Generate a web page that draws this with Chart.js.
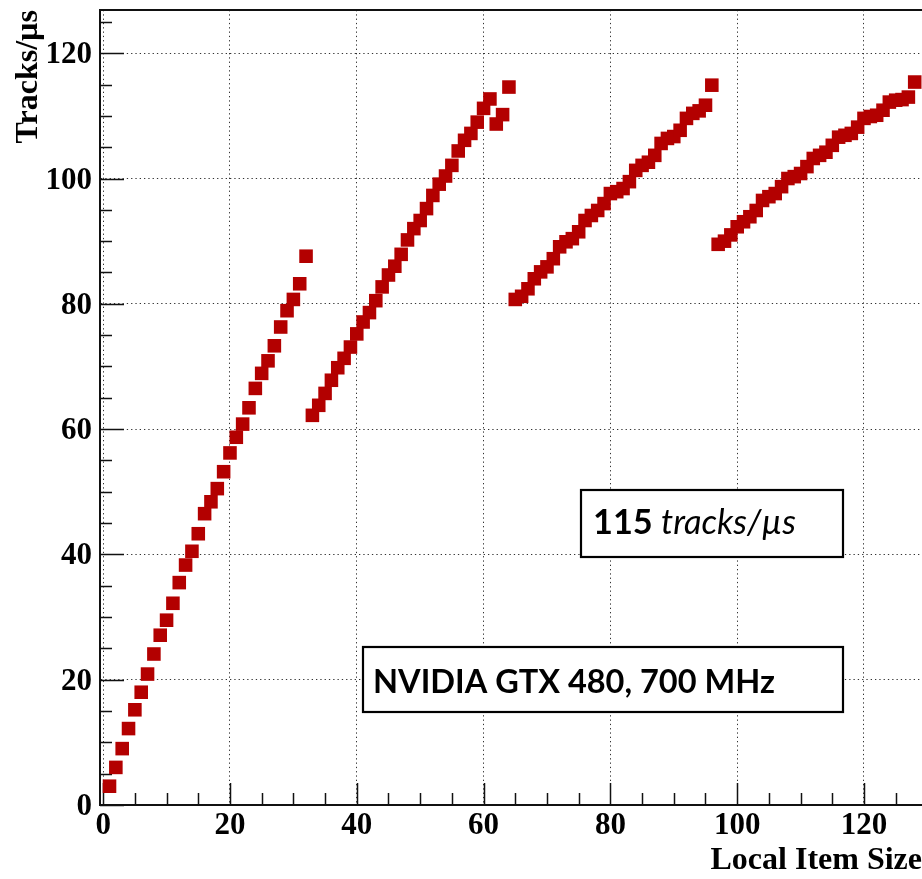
<!DOCTYPE html>
<html><head><meta charset="utf-8">
<script src="https://cdn.jsdelivr.net/npm/chart.js@4"></script>
<style>html,body{margin:0;padding:0;background:#fff}#wrap{width:922px;height:879px}</style>
</head><body><div id="wrap"><canvas id="c" width="922" height="879"></canvas></div>
<script>
// ---- data ----
const localItemSize = [
  1,2,3,4,5,6,7,8,9,10,11,12,13,14,15,16,17,18,19,20,21,22,23,24,25,26,27,28,29,30,31,32,
  33,34,35,36,37,38,39,40,41,42,43,44,45,46,47,48,49,50,51,52,53,54,55,56,57,58,59,60,61,62,63,64,
  65,66,67,68,69,70,71,72,73,74,75,76,77,78,79,80,81,82,83,84,85,86,87,88,89,90,91,92,93,94,95,96,
  97,98,99,100,101,102,103,104,105,106,107,108,109,110,111,112,113,114,115,116,117,118,119,120,121,122,123,124,125,126,127,128
];
const tracksPerUs = [
  3.0,6.0,9.0,12.2,15.2,18.0,20.9,24.1,27.1,29.5,32.2,35.5,38.3,40.5,43.3,46.5,48.4,50.5,53.2,56.2,58.7,60.8,63.4,66.5,68.9,70.9,73.3,76.3,78.9,80.7,83.2,87.6,
  62.2,63.8,65.7,67.8,69.8,71.3,73.1,75.2,77.1,78.6,80.5,82.7,84.6,86.0,87.9,90.2,92.0,93.3,95.2,97.3,99.1,100.4,102.1,104.4,106.1,107.2,109.0,111.2,112.7,108.7,110.2,114.6,
  80.7,81.2,82.4,84.0,85.1,85.9,87.2,89.1,89.9,90.4,91.5,93.3,94.1,94.9,96.0,97.6,97.9,98.4,99.5,101.3,102.1,102.6,103.7,105.6,106.4,106.7,107.7,109.6,110.4,110.8,111.7,114.9,
  89.5,90.0,91.0,92.3,93.1,93.9,94.9,96.5,97.1,97.6,98.7,100.0,100.3,100.8,101.9,103.2,103.7,104.2,105.3,106.6,106.9,107.2,108.2,109.6,109.9,110.1,110.9,112.2,112.5,112.6,113.0,115.4
];
const xTicks = [0,20,40,60,80,100,120];
const yTicks = [0,20,40,60,80,100,120];
const xTitle = 'Local Item Size';
const yTitle = 'Tracks/µs';
const peakValue = '115';
const peakUnit = 'tracks/µs';
const deviceLabel = 'NVIDIA GTX 480, 700 MHz';

// ---- styling ----
const X_MIN = -0.5, X_MAX = 129.15, Y_MIN = 0, Y_MAX = 126.9;
const MINOR_STEP = 5;
const serif = "'Liberation Serif', 'DejaVu Serif', serif";
const sans = "Lato, 'Open Sans', sans-serif";

function zeroPad(s) { s.paddingTop = 0; s.paddingBottom = 0; s.paddingLeft = 0; s.paddingRight = 0; }

const decorPlugin = {
  id: 'decor',
  beforeDatasetsDraw(chart) {
    const {ctx, chartArea: a, scales: {x, y}} = chart;
    ctx.save();
    ctx.strokeStyle = '#111';
    ctx.lineWidth = 1.5;
    ctx.beginPath();
    for (let v = 0; v <= Y_MAX; v += MINOR_STEP) {
      const py = Math.round(y.getPixelForValue(v)) + 0.5;
      const len = (v % 20 === 0) ? 24 : 12;
      ctx.moveTo(a.left, py); ctx.lineTo(a.left + len, py);
    }
    for (let v = 0; v <= X_MAX; v += MINOR_STEP) {
      const px = Math.round(x.getPixelForValue(v)) + 0.5;
      const len = (v % 20 === 0) ? 22 : 12;
      ctx.moveTo(px, a.bottom); ctx.lineTo(px, a.bottom - len);
    }
    ctx.stroke();
    ctx.restore();
  },
  afterDatasetsDraw(chart) {
    const {ctx, chartArea: a} = chart;
    ctx.save();
    // top frame line
    ctx.strokeStyle = '#111'; ctx.lineWidth = 2;
    ctx.beginPath(); ctx.moveTo(a.left - 1, a.top); ctx.lineTo(a.right, a.top); ctx.stroke();

    // box 1
    ctx.fillStyle = '#fff'; ctx.strokeStyle = '#000'; ctx.lineWidth = 2.2;
    ctx.fillRect(581, 490, 262, 67); ctx.strokeRect(581, 490, 262, 67);
    ctx.fillStyle = '#000'; ctx.textBaseline = 'alphabetic'; ctx.textAlign = 'left';
    ctx.font = `bold 100px ${sans}`;
    const wb = ctx.measureText(peakValue + ' ').width;
    ctx.font = `italic 100px ${sans}`;
    const wi = ctx.measureText(peakUnit).width;
    const s1 = 100 * 203 / (wb + wi);
    ctx.font = `bold ${s1}px ${sans}`;
    ctx.fillText(peakValue, 593, 534);
    const wb1 = ctx.measureText(peakValue + ' ').width;
    ctx.font = `italic ${s1}px ${sans}`;
    ctx.fillText(peakUnit, 593 + wb1, 534);

    // box 2
    ctx.fillStyle = '#fff';
    ctx.fillRect(363, 647, 480, 65); ctx.strokeRect(363, 647, 480, 65);
    ctx.fillStyle = '#000';
    ctx.font = `bold 100px ${sans}`;
    const w2 = ctx.measureText(deviceLabel).width;
    ctx.font = `bold ${100 * 402 / w2}px ${sans}`;
    ctx.fillText(deviceLabel, 373, 693);
    ctx.restore();
  }
};

new Chart(document.getElementById('c'), {
  type: 'scatter',
  data: {
    datasets: [{
      data: localItemSize.map((v, i) => ({x: v, y: tracksPerUs[i]})),
      pointStyle: 'rect',
      pointRadius: 9.6,
      pointHoverRadius: 9.6,
      backgroundColor: '#b30000',
      borderColor: '#b30000',
      borderWidth: 0,
      clip: false
    }]
  },
  options: {
    responsive: false,
    devicePixelRatio: 1,
    animation: false,
    layout: {autoPadding: false, padding: {top: 10, right: 0, left: 0, bottom: 0}},
    plugins: {legend: {display: false}, tooltip: {enabled: false}},
    scales: {
      x: {
        type: 'linear', min: X_MIN, max: X_MAX,
        afterBuildTicks: s => { s.ticks = xTicks.map(v => ({value: v})); },
        afterFit: s => { s.height = 74; zeroPad(s); },
        grid: {color: '#333', lineWidth: 1, drawTicks: false},
        border: {display: true, color: '#111', width: 2, dash: [1.3, 3]},
        ticks: {color: '#000', padding: 2, maxRotation: 0, autoSkip: false,
                font: {family: serif, size: 31, weight: 'bold'}},
        title: {display: true, text: xTitle, align: 'end', color: '#000',
                font: {family: serif, size: 32, weight: 'bold', lineHeight: 1},
                padding: {top: 0, bottom: 2}}
      },
      y: {
        type: 'linear', min: Y_MIN, max: Y_MAX,
        afterBuildTicks: s => { s.ticks = yTicks.map(v => ({value: v})); },
        afterFit: s => { s.width = 100; zeroPad(s); },
        grid: {color: '#333', lineWidth: 1, drawTicks: false},
        border: {display: true, color: '#111', width: 2, dash: [1.3, 3]},
        ticks: {color: '#000', padding: 8, labelOffset: 2, autoSkip: false,
                font: {family: serif, size: 31, weight: 'bold'}},
        title: {display: true, text: yTitle, align: 'end', color: '#000',
                font: {family: serif, size: 32, weight: 'bold'},
                padding: {top: 10, bottom: 0}}
      }
    }
  },
  plugins: [decorPlugin]
});
</script>
</body></html>
